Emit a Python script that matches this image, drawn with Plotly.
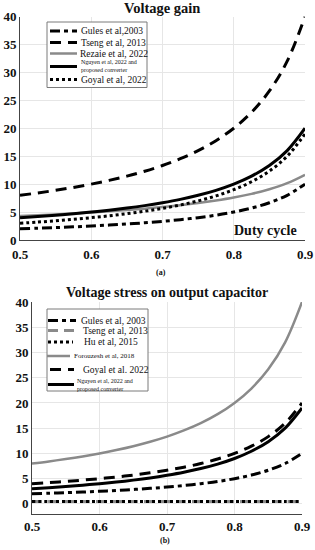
import plotly.graph_objects as go

# Duty cycle samples
duty = [0.5, 0.525, 0.55, 0.575, 0.6, 0.625, 0.65, 0.675, 0.7, 0.725,
        0.75, 0.775, 0.8, 0.825, 0.85, 0.875, 0.9]

# (a) Voltage gain
gain_gules = [2.0, 2.11, 2.22, 2.35, 2.5, 2.67, 2.86, 3.08, 3.33, 3.64,
              4.0, 4.44, 5.0, 5.71, 6.67, 8.0, 10.0]
gain_tseng = [8.0, 8.42, 8.89, 9.41, 10.0, 10.67, 11.43, 12.31, 13.33, 14.55,
              16.0, 17.78, 20.0, 22.86, 26.67, 32.0, 40.0]
gain_rezaie = [4.29, 4.43, 4.58, 4.75, 4.93, 5.14, 5.36, 5.61, 5.90, 6.23,
               6.61, 7.06, 7.59, 8.25, 9.08, 10.17, 11.68]
gain_nguyen = [4.0, 4.21, 4.44, 4.71, 5.0, 5.33, 5.71, 6.15, 6.67, 7.27,
               8.0, 8.89, 10.0, 11.43, 13.33, 16.0, 20.0]
gain_goyal = [3.0, 3.21, 3.44, 3.71, 4.0, 4.33, 4.71, 5.15, 5.67, 6.27,
              7.0, 7.89, 9.0, 10.43, 12.33, 15.0, 19.0]

# (b) Voltage stress on output capacitor
st_gules = [2.0, 2.11, 2.22, 2.35, 2.5, 2.67, 2.86, 3.08, 3.33, 3.64,
            4.0, 4.44, 5.0, 5.71, 6.67, 8.0, 10.0]
st_tseng = [0.5, 0.5, 0.5, 0.5, 0.5, 0.5, 0.5, 0.5, 0.5, 0.5,
            0.5, 0.5, 0.5, 0.5, 0.5, 0.5, 0.5]
st_hu = [0.5, 0.5, 0.5, 0.5, 0.5, 0.5, 0.5, 0.5, 0.5, 0.5,
         0.5, 0.5, 0.5, 0.5, 0.5, 0.5, 0.5]
st_forouzesh = [8.0, 8.42, 8.89, 9.41, 10.0, 10.67, 11.43, 12.31, 13.33, 14.55,
                16.0, 17.78, 20.0, 22.86, 26.67, 32.0, 40.0]
st_goyal = [4.0, 4.21, 4.44, 4.71, 5.0, 5.33, 5.71, 6.15, 6.67, 7.27,
            8.0, 8.89, 10.0, 11.43, 13.33, 16.0, 20.0]
st_nguyen = [3.0, 3.21, 3.44, 3.71, 4.0, 4.33, 4.71, 5.15, 5.67, 6.27,
             7.0, 7.89, 9.0, 10.43, 12.33, 15.0, 19.0]

x_ticks = [0.5, 0.6, 0.7, 0.8, 0.9]
x_labels = ["0.5", "0.6", "0.7", "0.8", "0.9"]
y_ticks = [0, 5, 10, 15, 20, 25, 30, 35, 40]

SERIF = "Liberation Serif"
BLACK = "#000000"
GRAY = "#8a8a8a"
DASHDOT = "10px,4px,4px,4px"
DASH = "11px,7px"
DOT = "3px,3px"
W, H = 315, 550

# series definitions: (label, values, color, dash, width, legend font size)
top_series = [
    ("Gules et al,2003", gain_gules, BLACK, DASHDOT, 3, 9.5),
    ("Tseng et al, 2013", gain_tseng, BLACK, DASH, 3, 9.5),
    ("Rezaie et al, 2022", gain_rezaie, GRAY, "solid", 2.5, 9.5),
    ("Nguyen et al, 2022 and<br>proposed converter", gain_nguyen, BLACK, "solid", 3, 6),
    ("Goyal et al, 2022", gain_goyal, BLACK, DOT, 3, 9.5),
]
bottom_series = [
    ("Gules et al, 2003", st_gules, BLACK, DASHDOT, 3, 9.5),
    ("Tseng et al, 2013", st_tseng, GRAY, "10px,6px", 3, 9.5),
    ("Hu et al, 2015", st_hu, BLACK, DOT, 3, 9.5),
    ("Forouzesh et al, 2018", st_forouzesh, GRAY, "solid", 2.5, 7),
    ("Goyal et al. 2022", st_goyal, BLACK, DASH, 3, 9.5),
    ("Nguyen et al, 2022 and<br>proposed converter", st_nguyen, BLACK, "solid", 3, 6),
]

fig = go.Figure()
for name, vals, color, dash, width, _ in top_series:
    fig.add_trace(go.Scatter(x=duty, y=vals, name=name.replace("<br>", " "), mode="lines",
                             line=dict(color=color, dash=dash, width=width, shape="spline"),
                             xaxis="x", yaxis="y", showlegend=False))
for name, vals, color, dash, width, _ in bottom_series:
    fig.add_trace(go.Scatter(x=duty, y=vals, name=name.replace("<br>", " "), mode="lines",
                             line=dict(color=color, dash=dash, width=width, shape="spline"),
                             xaxis="x2", yaxis="y2", showlegend=False))

tickfont = dict(family=SERIF, size=13, color="#111", weight="bold")
axcommon = dict(showgrid=True, gridcolor="#e6e6e6", gridwidth=1, zeroline=False,
                showline=True, linecolor="#444", linewidth=1, ticks="",
                tickfont=tickfont, automargin=False)

fig.update_layout(
    width=W, height=H,
    margin=dict(l=0, r=0, t=0, b=0),
    paper_bgcolor="white", plot_bgcolor="white",
    showlegend=False,
    xaxis=dict(domain=[20/W, 305/W], range=[0.5, 0.9], tickvals=x_ticks, ticktext=x_labels,
               anchor="y", ticklabeloverflow="allow", ticklabelstandoff=2, **axcommon),
    yaxis=dict(domain=[1-240/H, 1-16.5/H], range=[0, 40], tickvals=y_ticks,
               anchor="x", **axcommon),
    xaxis2=dict(domain=[32/W, 302/W], range=[0.5, 0.9], tickvals=x_ticks, ticktext=x_labels,
                anchor="y2", ticklabeloverflow="allow", **axcommon),
    yaxis2=dict(domain=[1-514/H, 1-302/H], range=[-2, 40], tickvals=y_ticks,
                anchor="x2", **axcommon),
)

# --- legends (drawn as boxes with key lines and labels) ---
def draw_legend(series, box, rows, sample_x, text_x):
    x0, y0, x1, y1 = box
    fig.add_shape(type="rect", xref="paper", yref="paper",
                  x0=x0/W, x1=x1/W, y0=1-y1/H, y1=1-y0/H,
                  line=dict(color="#7a7a7a", width=1), fillcolor="white", layer="above")
    for (name, _, color, dash, width, fs), ry, sx, tx in zip(series, rows, sample_x, text_x):
        fig.add_shape(type="line", xref="paper", yref="paper",
                      x0=sx[0]/W, x1=sx[1]/W, y0=1-ry/H, y1=1-ry/H,
                      line=dict(color=color, dash=dash, width=width), layer="above")
        fig.add_annotation(text=name, x=tx/W, y=1-ry/H, xref="paper", yref="paper",
                           showarrow=False, xanchor="left", yanchor="middle", align="left",
                           font=dict(family=SERIF, size=fs, color="#111"))

draw_legend(top_series, (47, 22, 147, 87.5),
            [31, 42.5, 53.5, 66.5, 79.5],
            [(50, 77)] * 5,
            [79, 79, 78, 79, 79])
draw_legend(bottom_series, (47, 309, 148, 391),
            [320.5, 330.5, 342, 356, 369.5, 384.5],
            [(48, 76), (48, 74), (48, 73), (47, 70), (50, 74), (48, 74)],
            [79, 81, 81.5, 71.5, 81, 75])

# --- titles and labels ---
ann_font_title = dict(family=SERIF, size=14.5, color="#111", weight="bold")
fig.add_annotation(text="Voltage gain", x=162/W, y=1-8/H, xref="paper", yref="paper",
                   showarrow=False, font=ann_font_title, xanchor="center", yanchor="middle")
fig.add_annotation(text="Voltage stress on output capacitor", x=167/W, y=1-292/H,
                   xref="paper", yref="paper", showarrow=False,
                   font=dict(family=SERIF, size=14, color="#111", weight="bold"),
                   xanchor="center", yanchor="middle")
fig.add_annotation(text="Duty cycle", x=265/W, y=1-230/H, xref="paper", yref="paper",
                   showarrow=False, font=dict(family=SERIF, size=14, color="#111", weight="bold"),
                   xanchor="center", yanchor="middle")
fig.add_annotation(text="(a)", x=161/W, y=1-272/H, xref="paper", yref="paper",
                   showarrow=False, font=dict(family=SERIF, size=8, color="#111", weight="bold"),
                   xanchor="center", yanchor="middle")
fig.add_annotation(text="(b)", x=165/W, y=1-540/H, xref="paper", yref="paper",
                   showarrow=False, font=dict(family=SERIF, size=8, color="#111", weight="bold"),
                   xanchor="center", yanchor="middle")

fig.write_html("out.html",
               config={"displayModeBar": False},
               post_script="document.body.style.margin='0';document.body.style.overflow='hidden';")
